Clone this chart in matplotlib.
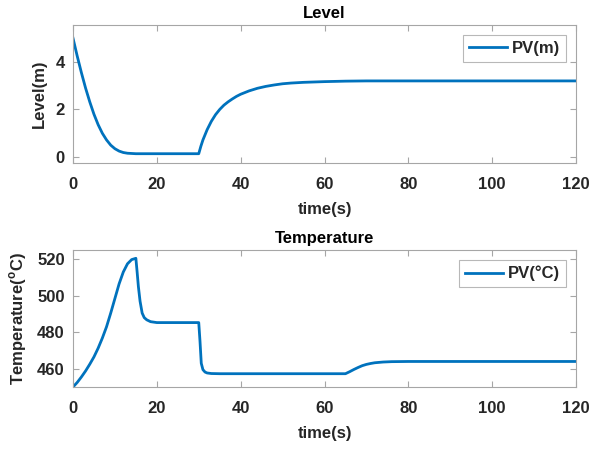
import matplotlib
matplotlib.use('Agg')
import matplotlib.pyplot as plt

# Level response
t_level = [0, 1, 2, 3, 4, 5, 6, 7, 8, 9, 10, 11, 12, 13, 14, 15, 17, 30,
           30.5, 31, 32, 33, 34, 35, 36, 37, 38, 39, 40, 42, 44, 46, 48, 50,
           52, 55, 60, 65, 70, 120]
level = [5.0, 4.25, 3.55, 2.9, 2.32, 1.8, 1.36, 1.0, 0.72, 0.5, 0.35, 0.25,
         0.19, 0.16, 0.15, 0.14, 0.14, 0.14,
         0.45, 0.72, 1.15, 1.5, 1.78, 2.0, 2.18, 2.32, 2.44, 2.55, 2.64, 2.78,
         2.89, 2.97, 3.03, 3.08, 3.11, 3.14, 3.17, 3.19, 3.2, 3.2]

# Temperature response
t_temp = [0, 1, 2, 3, 4, 5, 6, 7, 8, 9, 10, 11, 12, 13, 14, 15,
          15.3, 15.6, 16, 16.5, 17, 17.6, 18.5, 20, 30,
          30.3, 30.6, 31, 31.5, 32, 33, 35, 65,
          66, 67, 68, 69, 70, 71, 72, 74, 76, 80, 120]
temp = [450, 452.5, 455.5, 458.8, 462.5, 466.5, 471.3, 476.8, 483, 490.5, 498.5,
        506.5, 513, 517.5, 519.8, 520.5,
        513, 505, 497, 490.5, 488, 486.8, 485.8, 485.3, 485.3,
        475, 463, 459.5, 458.2, 457.7, 457.4, 457.3, 457.3,
        458.4, 459.6, 460.7, 461.7, 462.4, 462.9, 463.3, 463.7, 463.9, 464.0, 464.0]

blue = '#0072BD'
plt.rcParams['font.family'] = ['Liberation Sans', 'DejaVu Sans']
plt.rcParams['font.weight'] = 'bold'
plt.rcParams['font.size'] = 12
plt.rcParams['mathtext.fontset'] = 'custom'
plt.rcParams['mathtext.bf'] = 'Liberation Sans:bold'
plt.rcParams['mathtext.rm'] = 'Liberation Sans:bold'

fig = plt.figure(figsize=(5.92, 4.49), dpi=100)
ax1 = fig.add_axes([0.1233, 0.637, 0.8497, 0.3073])
ax2 = fig.add_axes([0.1233, 0.138, 0.8497, 0.305])


def style(ax):
    for s in ax.spines.values():
        s.set_color('#a6a6a6')
        s.set_linewidth(0.8)
    ax.tick_params(direction='in', length=4, width=0.8, color='#a6a6a6',
                   labelcolor='#262626', labelsize=12, top=True, right=True)
    ax.tick_params(axis='x', pad=10)
    ax.tick_params(axis='y', pad=6)
    for lab in ax.get_xticklabels() + ax.get_yticklabels():
        lab.set_fontweight('bold')
    ax.set_xlim(0, 120)
    ax.set_xticks(range(0, 121, 20))
    ax.set_xlabel('time(s)', fontsize=12, fontweight='bold', color='#262626', labelpad=7)


ax1.plot(t_level, level, color=blue, linewidth=2, label='PV(m)')
ax1.set_ylim(-0.25, 5.55)
ax1.set_yticks([0, 2, 4])
ax1.set_ylabel('Level(m)', fontsize=12, fontweight='bold', color='#262626', labelpad=6)
ax1.set_title('Level', fontsize=12, fontweight='bold', pad=5)
style(ax1)

ax2.plot(t_temp, temp, color=blue, linewidth=2, label='PV(°C)')
ax2.set_ylim(450, 525)
ax2.set_yticks([460, 480, 500, 520])
ax2.set_ylabel(r'Temperature($^{\mathrm{o}}$C)', fontsize=12, fontweight='bold',
               color='#262626', labelpad=6)
ax2.set_title('Temperature', fontsize=12, fontweight='bold', pad=5)
style(ax2)

for ax in (ax1, ax2):
    leg = ax.legend(loc='upper right', fancybox=False, handlelength=2.3,
                    prop={'weight': 'bold', 'size': 12}, borderaxespad=0.6,
                    handletextpad=0.3, borderpad=0.35)
    leg.get_frame().set_edgecolor('#a6a6a6')
    leg.get_frame().set_linewidth(0.8)
    for txt in leg.get_texts():
        txt.set_color('#262626')

fig.savefig('out.png', dpi=100)
